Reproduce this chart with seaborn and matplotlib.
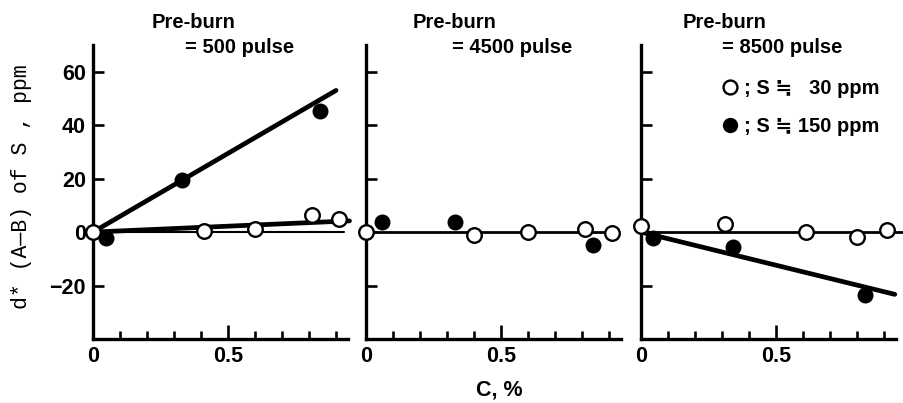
import matplotlib
matplotlib.use("Agg")
import matplotlib.pyplot as plt
import seaborn as sns
import numpy as np
import pandas as pd
from matplotlib.lines import Line2D

sns.set_style("ticks")
plt.rcParams['font.family'] = ['Liberation Sans', 'DejaVu Sans']
plt.rcParams.update({'text.color': 'black', 'axes.edgecolor': 'black',
                     'xtick.color': 'black', 'ytick.color': 'black',
                     'axes.labelcolor': 'black'})

# ---- data ----
panel_titles = ["= 500 pulse", "= 4500 pulse", "= 8500 pulse"]

open_x = [[0.0, 0.41, 0.60, 0.81, 0.91],
          [0.0, 0.40, 0.60, 0.81, 0.91],
          [0.0, 0.31, 0.61, 0.80, 0.91]]
open_y = [[0.0, 0.4, 1.0, 6.3, 4.8],
          [0.0, -1.1, 0.0, 1.0, -0.3],
          [2.2, 3.0, 0.0, -1.8, 0.7]]

filled_x = [[0.05, 0.33, 0.84],
            [0.06, 0.33, 0.84],
            [0.045, 0.34, 0.83]]
filled_y = [[-2.2, 19.6, 45.2],
            [3.7, 3.7, -4.8],
            [-2.2, -5.5, -23.7]]

# fitted lines (start/end) for the 150 ppm series, and 30 ppm in panel 1
fit150_x = [[0.0, 0.90], None, [0.0, 0.94]]
fit150_y = [[0.0, 53.0], None, [0.0, -23.3]]
fit30_x = [[0.0, 0.95], None, None]
fit30_y = [[0.0, 4.2], None, None]

# horizontal zero lines
zero_x = [[0.0, 0.93], [0.0, 0.92], [0.0, 0.97]]
zero_y = [[0.0, 0.0], [0.0, 0.0], [0.0, 0.0]]
zero_lw = [1.5, 2.0, 2.0]

y_ticks = [-20, 0, 20, 40, 60]
x_major = [0, 0.5]
x_minor = [0.1, 0.2, 0.3, 0.4, 0.6, 0.7, 0.8, 0.9]
legend_labels = ["; S \u2252   30 ppm", "; S \u2252 150 ppm"]

W, H = 904, 403
fig = plt.figure(figsize=(W / 100, H / 100), dpi=100)

lefts = [93, 366, 641]
bottom_px, top_px = 339, 45
panel_w_px = 0.945 * 270
title1_dx = [59, 47, 42]
title2_dx = [92, 86, 81]

tick_font = dict(family=['Liberation Sans', 'DejaVu Sans'], weight='bold', size=15.5)

for i in range(3):
    ax = fig.add_axes([lefts[i] / W, (H - bottom_px) / H,
                       panel_w_px / W, (bottom_px - top_px) / H])
    ax.set_xlim(0, 0.945)
    ax.set_ylim(-40, 70)
    for s in ['top', 'right']:
        ax.spines[s].set_visible(False)
    for s in ['left', 'bottom']:
        ax.spines[s].set_linewidth(2.4)
        ax.spines[s].set_color('black')
    ax.patch.set_alpha(0)

    sns.lineplot(x=zero_x[i], y=zero_y[i], ax=ax, color='black',
                 lw=zero_lw[i], zorder=2, clip_on=False)
    if fit30_x[i] is not None:
        sns.lineplot(x=fit30_x[i], y=fit30_y[i], ax=ax, color='black',
                     lw=3.4, zorder=2, clip_on=False)
    if fit150_x[i] is not None:
        sns.lineplot(x=fit150_x[i], y=fit150_y[i], ax=ax, color='black',
                     lw=3.4, zorder=2, clip_on=False)

    sns.scatterplot(x=filled_x[i], y=filled_y[i], ax=ax, color='black',
                    edgecolor='black', s=110, linewidth=1.0, zorder=3, clip_on=False)
    sns.scatterplot(x=open_x[i], y=open_y[i], ax=ax, color='white',
                    edgecolor='black', s=110, linewidth=1.7, zorder=4, clip_on=False)

    ax.set_yticks(y_ticks)
    ax.set_xticks(x_major)
    ax.set_xticks(x_minor, minor=True)
    ax.tick_params(axis='y', direction='in', length=8, width=1.9, pad=5,
                   labelleft=(i == 0))
    ax.tick_params(axis='x', which='major', direction='in', length=10, width=1.9, pad=5)
    ax.tick_params(axis='x', which='minor', direction='in', length=6, width=1.9)
    ax.set_xticklabels(["0", "0.5"])
    if i == 0:
        ax.set_yticklabels([str(v) if v >= 0 else "\u2212" + str(-v) for v in y_ticks])
    for lab in ax.get_xticklabels() + ax.get_yticklabels():
        lab.set_fontproperties(matplotlib.font_manager.FontProperties(**tick_font))
    ax.set_xlabel("")
    ax.set_ylabel("")

    fig.text((lefts[i] + title1_dx[i]) / W, 1 - 28 / H, "Pre-burn",
             fontsize=14.5, fontweight='bold', ha='left', va='baseline')
    fig.text((lefts[i] + title2_dx[i]) / W, 1 - 53 / H, panel_titles[i],
             fontsize=14.5, fontweight='bold', ha='left', va='baseline')

    if i == 2:
        handles = [Line2D([], [], ls='none', marker='o', markersize=10,
                          markerfacecolor='white', markeredgecolor='black', markeredgewidth=1.7),
                   Line2D([], [], ls='none', marker='o', markersize=10,
                          markerfacecolor='black', markeredgecolor='black')]
        leg = ax.legend(handles, legend_labels, loc='upper left',
                        bbox_to_anchor=(0.24, 0.945), frameon=False,
                        handletextpad=0.15, handlelength=1.0, labelspacing=0.95,
                        prop=dict(family=['Liberation Sans', 'DejaVu Sans'],
                                  weight='bold', size=14.5))

fig.text(22 / W, 1 - 187 / H, "d* (A\u2014B) of S , ppm", rotation=90,
         ha='center', va='center', family=['Liberation Mono', 'DejaVu Sans Mono'],
         fontsize=15.5)
fig.text(499 / W, 1 - 390 / H, "C, %", ha='center', va='center',
         fontsize=15.5, fontweight='bold')

fig.savefig("out.png", dpi=100)
